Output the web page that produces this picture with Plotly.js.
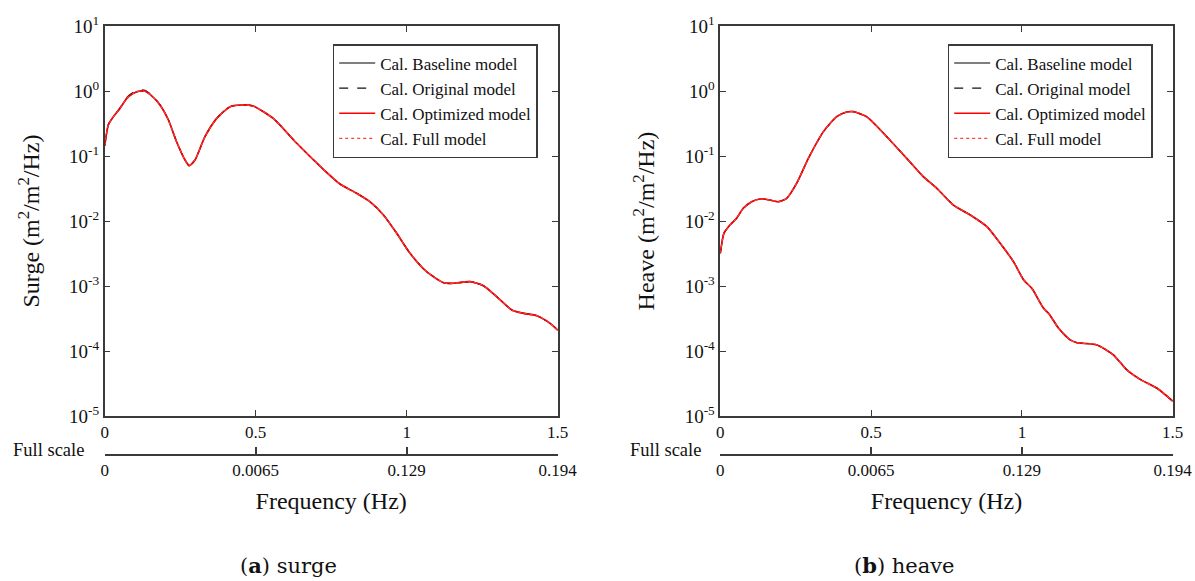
<!DOCTYPE html>
<html>
<head>
<meta charset="utf-8">
<script src="https://cdn.plot.ly/plotly-3.0.1.min.js"></script>
<style>html,body{margin:0;padding:0;background:#fff;}#chart{width:1195px;height:581px;}</style>
</head>
<body>
<div id="chart"></div>
<script>
// ---- Data ----
const modelScaleTicks = [0, 0.5, 1, 1.5];
const modelScaleLabels = ['0', '0.5', '1', '1.5'];
const fullScaleLabels = ['0', '0.0065', '0.129', '0.194'];
const yTickVals = [1e-5, 1e-4, 1e-3, 1e-2, 1e-1, 1, 10];
const yTickLabels = ['10<sup>-5</sup>', '10<sup>-4</sup>', '10<sup>-3</sup>', '10<sup>-2</sup>', '10<sup>-1</sup>', '10<sup>0</sup>', '10<sup>1</sup>'];
const modelNames = ['Cal. Baseline model', 'Cal. Original model', 'Cal. Optimized model', 'Cal. Full model'];

const surgeFreq = [0, 0.012, 0.029, 0.051, 0.073, 0.095, 0.117, 0.134, 0.156, 0.183, 0.211, 0.238, 0.266, 0.280, 0.299, 0.332, 0.371, 0.415, 0.454, 0.492, 0.558, 0.636, 0.724, 0.779, 0.834, 0.878, 0.923, 0.967, 1.011, 1.066, 1.122, 1.155, 1.210, 1.254, 1.298, 1.348, 1.387, 1.431, 1.475, 1.5];
const surgeBaseline = [0.143, 0.300, 0.403, 0.541, 0.771, 0.920, 1.00, 0.989, 0.838, 0.610, 0.358, 0.166, 0.0867, 0.0710, 0.0867, 0.198, 0.379, 0.574, 0.610, 0.587, 0.379, 0.157, 0.0624, 0.0371, 0.0267, 0.0198, 0.01236, 0.00646, 0.00318, 0.00166, 0.001125, 0.00110, 0.001167, 0.00101, 0.000686, 0.000428, 0.000379, 0.000350, 0.000267, 0.000210];
const surgeOriginal = [0.143, 0.305, 0.410, 0.555, 0.800, 0.960, 1.04, 1.03, 0.860, 0.620, 0.360, 0.166, 0.0867, 0.0710, 0.0867, 0.198, 0.379, 0.574, 0.610, 0.587, 0.379, 0.157, 0.0624, 0.0371, 0.0267, 0.0198, 0.01236, 0.00646, 0.00318, 0.00166, 0.001125, 0.00110, 0.001167, 0.00101, 0.000686, 0.000428, 0.000379, 0.000350, 0.000267, 0.000210];
const surgeOptimized = [0.143, 0.300, 0.403, 0.541, 0.771, 0.920, 1.00, 0.989, 0.838, 0.610, 0.358, 0.166, 0.0867, 0.0710, 0.0867, 0.198, 0.379, 0.574, 0.610, 0.587, 0.379, 0.157, 0.0624, 0.0371, 0.0267, 0.0198, 0.01236, 0.00646, 0.00318, 0.00166, 0.001125, 0.00110, 0.001167, 0.00101, 0.000686, 0.000428, 0.000379, 0.000350, 0.000267, 0.000210];
const surgeFull = [0.143, 0.300, 0.403, 0.541, 0.771, 0.920, 1.00, 0.989, 0.838, 0.610, 0.358, 0.166, 0.0867, 0.0710, 0.0867, 0.198, 0.379, 0.574, 0.610, 0.587, 0.379, 0.157, 0.0624, 0.0371, 0.0267, 0.0198, 0.01236, 0.00646, 0.00318, 0.00166, 0.001125, 0.00110, 0.001167, 0.00101, 0.000686, 0.000428, 0.000379, 0.000350, 0.000267, 0.000210];

const heaveFreq = [0, 0.012, 0.032, 0.054, 0.076, 0.104, 0.132, 0.165, 0.192, 0.220, 0.253, 0.292, 0.342, 0.386, 0.419, 0.441, 0.485, 0.552, 0.618, 0.673, 0.718, 0.773, 0.829, 0.884, 0.928, 0.972, 1.006, 1.033, 1.072, 1.089, 1.122, 1.160, 1.183, 1.249, 1.304, 1.348, 1.392, 1.448, 1.5];
const heaveBaseline = [0.00318, 0.00646, 0.00867, 0.0110, 0.01567, 0.0198, 0.0218, 0.0210, 0.0198, 0.0223, 0.0379, 0.0920, 0.237, 0.403, 0.475, 0.481, 0.403, 0.198, 0.0920, 0.0481, 0.0318, 0.0176, 0.01236, 0.00818, 0.00453, 0.00237, 0.001236, 0.00092, 0.000453, 0.000379, 0.000223, 0.000148, 0.000134, 0.000124, 0.0000867, 0.0000511, 0.0000366, 0.0000267, 0.0000170];
const heaveOriginal = heaveBaseline;
const heaveOptimized = heaveBaseline;
const heaveFull = heaveBaseline;

// ---- Styles ----
const FONT = '"Liberation Serif", "Times New Roman", serif';
const CAPFONT = '"DejaVu Serif", serif';
const lineStyles = [
  {color: '#555555', width: 1.6, dash: 'solid'},
  {color: '#111111', width: 1.1, dash: 'dash'},
  {color: '#ff0000', width: 1.6, dash: 'solid'},
  {color: '#ff4040', width: 1.1, dash: 'dot'}
];

function series(x, ys, xa, ya, legendId) {
  return ys.map((y, i) => ({
    x: x, y: y, type: 'scatter', mode: 'lines',
    line: Object.assign({shape: 'spline', smoothing: 0.6}, lineStyles[i]),
    name: modelNames[i], xaxis: xa, yaxis: ya, legend: legendId,
    hoverinfo: 'skip'
  }));
}

const traces = []
  .concat(series(surgeFreq, [surgeBaseline, surgeOriginal, surgeOptimized, surgeFull], 'x', 'y', 'legend'))
  .concat(series(heaveFreq, [heaveBaseline, heaveOriginal, heaveOptimized, heaveFull], 'x2', 'y2', 'legend2'));

// invisible helper traces so the "full scale" axes are drawn
traces.push({x: [0, 1.5], y: [1, 1], xaxis: 'x3', yaxis: 'y', mode: 'lines', line: {width: 0}, opacity: 0, showlegend: false, hoverinfo: 'skip'});
traces.push({x: [0, 1.5], y: [1, 1], xaxis: 'x4', yaxis: 'y2', mode: 'lines', line: {width: 0}, opacity: 0, showlegend: false, hoverinfo: 'skip'});

const W = 1195, H = 581;
const plotTop = 1 - 26 / H, plotBottom = 1 - 416 / H, fullAxisPos = 1 - 455 / H;
const leftDom = [104.7 / W, 557.7 / W], rightDom = [720.3 / W, 1172.7 / W];
const axisColor = '#3a3a3a';
const TXT = '#111111';

function mainX(dom, anchor) {
  return {domain: dom, anchor: anchor, range: [0, 1.5], tickvals: modelScaleTicks, ticktext: modelScaleLabels,
    ticks: 'inside', ticklen: 6, tickcolor: axisColor, showline: true, linecolor: axisColor, linewidth: 1.5,
    mirror: 'ticks', showgrid: false, zeroline: false, tickfont: {family: FONT, size: 17, color: TXT}, fixedrange: true};
}
function mainY(anchor, title) {
  return {domain: [plotBottom, plotTop], anchor: anchor, type: 'log', range: [-5, 1], tickvals: yTickVals, ticktext: yTickLabels,
    ticks: 'inside', ticklen: 6, tickcolor: axisColor, showline: true, linecolor: axisColor, linewidth: 1.5,
    mirror: 'ticks', showgrid: false, zeroline: false, tickfont: {family: FONT, size: 19, color: TXT},
    title: {text: title, font: {family: FONT, size: 24, color: TXT}, standoff: 23}, fixedrange: true};
}
function fullX(over) {
  return {overlaying: over, anchor: 'free', position: fullAxisPos, side: 'bottom', range: [0, 1.5],
    tickvals: modelScaleTicks, ticktext: fullScaleLabels, ticks: 'inside', ticklen: 7, tickcolor: axisColor, tickwidth: 1.5,
    showline: true, linecolor: axisColor, linewidth: 1.5, showgrid: false, zeroline: false,
    tickfont: {family: FONT, size: 17, color: TXT},
    title: {text: 'Frequency (Hz)', font: {family: FONT, size: 24, color: TXT}, standoff: 12}, fixedrange: true};
}
function legendAt(xpx) {
  return {x: xpx / W, y: 1 - 44 / H, xanchor: 'left', yanchor: 'top', bgcolor: '#fff', bordercolor: axisColor,
    borderwidth: 1.5, font: {family: FONT, size: 17, color: TXT}, tracegroupgap: 0, itemwidth: 36};
}

const layout = {
  width: W, height: H, margin: {l: 0, r: 0, t: 0, b: 0}, paper_bgcolor: '#fff', plot_bgcolor: '#fff',
  font: {family: FONT, color: TXT},
  xaxis: mainX(leftDom, 'y'), yaxis: mainY('x', 'Surge (m<sup>2</sup>/m<sup>2</sup>/Hz)'),
  xaxis2: mainX(rightDom, 'y2'), yaxis2: mainY('x2', 'Heave (m<sup>2</sup>/m<sup>2</sup>/Hz)'),
  xaxis3: fullX('x'), xaxis4: fullX('x2'),
  legend: legendAt(332.7), legend2: legendAt(947.7),
  showlegend: true,
  annotations: [
    {text: 'Full scale', x: 86 / W, y: 1 - 450 / H, xref: 'paper', yref: 'paper', xanchor: 'right', yanchor: 'middle', showarrow: false, font: {family: FONT, size: 18.5, color: TXT}},
    {text: 'Full scale', x: 703 / W, y: 1 - 450 / H, xref: 'paper', yref: 'paper', xanchor: 'right', yanchor: 'middle', showarrow: false, font: {family: FONT, size: 18.5, color: TXT}},
    {text: '(<b>a</b>) surge', x: 288 / W, y: 1 - 565 / H, xref: 'paper', yref: 'paper', xanchor: 'center', yanchor: 'middle', showarrow: false, font: {family: CAPFONT, size: 21, color: TXT}},
    {text: '(<b>b</b>) heave', x: 904 / W, y: 1 - 565 / H, xref: 'paper', yref: 'paper', xanchor: 'center', yanchor: 'middle', showarrow: false, font: {family: CAPFONT, size: 21, color: TXT}}
  ]
};

Plotly.newPlot('chart', traces, layout, {displayModeBar: false});
</script>
</body>
</html>
